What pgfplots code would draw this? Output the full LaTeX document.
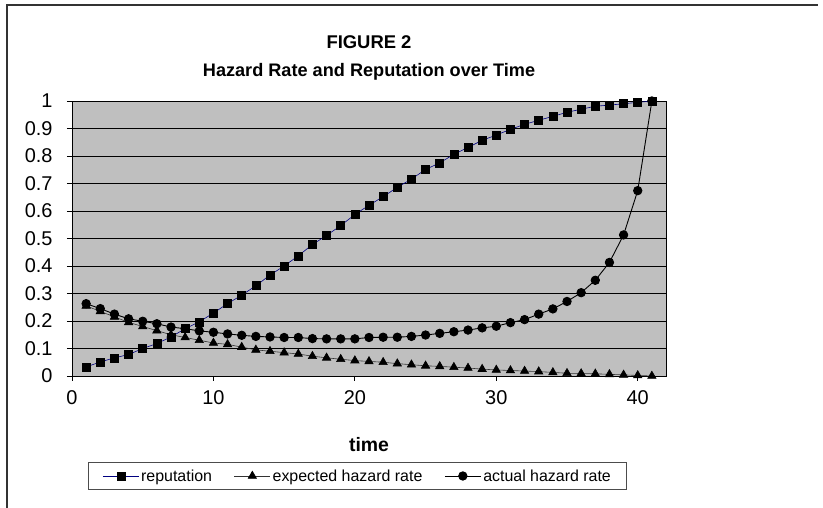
\documentclass[border=0pt]{standalone}
\usepackage{fontspec}
\setmainfont{Liberation Sans}
\usepackage{pgfplots}
\pgfplotsset{compat=1.18}
\begin{document}
\begin{tikzpicture}[x=1bp,y=1bp]
\path[use as bounding box] (0,0) rectangle (823,508);
\draw[line width=1.5bp, black!80] (7,0) -- (7,503) -- (818,503);
\node[font=\bfseries\fontsize{18.5}{20}\selectfont] at (369,466) {FIGURE 2};
\node[font=\bfseries\fontsize{18.2}{20}\selectfont] at (369,436) {Hazard Rate and Reputation over Time};
\begin{axis}[
  at={(72bp,132bp)}, anchor=south west,
  scale only axis, width=594bp, height=275bp,
  xmin=0, xmax=42, ymin=0, ymax=1,
  xtick={0,10,20,30,40}, ytick={0,0.1,...,1.01},
  yticklabels={0,0.1,0.2,0.3,0.4,0.5,0.6,0.7,0.8,0.9,1},
  tick align=outside, tick pos=left,
  major tick length=5bp,
  tick style={black, line width=0.8bp},
  axis background/.style={fill=black!25},
  ymajorgrids, grid style={black, line width=0.8bp},
  axis line style={black, line width=0.8bp},
  ticklabel style={font=\fontsize{20}{22}\selectfont},
  xticklabel style={yshift=-6bp},
  yticklabel style={xshift=-11bp},
  /pgf/number format/assume math mode=true,
  xlabel={time},
  xlabel style={font=\bfseries\fontsize{19.5}{21}\selectfont, at={(axis description cs:0.5,0)}, anchor=center, yshift=-69bp},
  legend columns=3,
  legend style={at={(0.481,-0.313)}, anchor=north, draw=black!70, line width=0.8bp,
    font=\fontsize{16}{18}\selectfont, inner ysep=5bp, inner xsep=14bp,
    /tikz/every even column/.append style={column sep=20bp}},
  legend image code/.code={\draw[#1] (0bp,0bp) -- (36bp,0bp); \draw[#1, only marks] plot coordinates {(18bp,0bp)};},
  clip=false,
]
\addplot[color=blue!50!black, line width=0.6bp, mark=square*, mark size=4bp, mark options={black, fill=black, solid}] coordinates {
(1,0.033)(2,0.051)(3,0.066)(4,0.078)(5,0.100)(6,0.118)(7,0.142)(8,0.172)(9,0.197)(10,0.229)
(11,0.263)(12,0.294)(13,0.328)(14,0.367)(15,0.400)(16,0.437)(17,0.478)(18,0.511)(19,0.547)(20,0.587)
(21,0.621)(22,0.652)(23,0.686)(24,0.716)(25,0.751)(26,0.775)(27,0.806)(28,0.831)(29,0.857)(30,0.876)
(31,0.897)(32,0.915)(33,0.930)(34,0.944)(35,0.959)(36,0.970)(37,0.981)(38,0.985)(39,0.990)(40,0.995)(41,1.0)};
\addlegendentry{reputation}
\addplot[color=black!80, line width=0.6bp, mark=triangle*, mark size=4.8bp, mark options={black, fill=black, solid}] coordinates {
(1,0.255)(2,0.235)(3,0.215)(4,0.195)(5,0.180)(6,0.165)(7,0.150)(8,0.140)(9,0.130)(10,0.120)
(11,0.115)(12,0.105)(13,0.095)(14,0.090)(15,0.085)(16,0.080)(17,0.072)(18,0.066)(19,0.061)(20,0.056)
(21,0.053)(22,0.050)(23,0.045)(24,0.041)(25,0.037)(26,0.035)(27,0.032)(28,0.029)(29,0.025)(30,0.022)
(31,0.020)(32,0.018)(33,0.016)(34,0.013)(35,0.010)(36,0.009)(37,0.008)(38,0.006)(39,0.004)(40,0.002)(41,0.0)};
\addlegendentry{expected hazard rate}
\addplot[color=black, line width=0.9bp, mark=*, mark size=4.2bp, mark options={black, fill=black, solid}] coordinates {
(1,0.263)(2,0.245)(3,0.225)(4,0.208)(5,0.199)(6,0.190)(7,0.178)(8,0.172)(9,0.164)(10,0.159)
(11,0.153)(12,0.148)(13,0.144)(14,0.142)(15,0.140)(16,0.140)(17,0.136)(18,0.135)(19,0.135)(20,0.135)
(21,0.140)(22,0.141)(23,0.141)(24,0.144)(25,0.149)(26,0.155)(27,0.161)(28,0.167)(29,0.175)(30,0.181)
(31,0.194)(32,0.205)(33,0.225)(34,0.244)(35,0.271)(36,0.303)(37,0.348)(38,0.413)(39,0.513)(40,0.674)(41,1.0)};
\addlegendentry{actual hazard rate}
\end{axis}
\end{tikzpicture}
\end{document}
